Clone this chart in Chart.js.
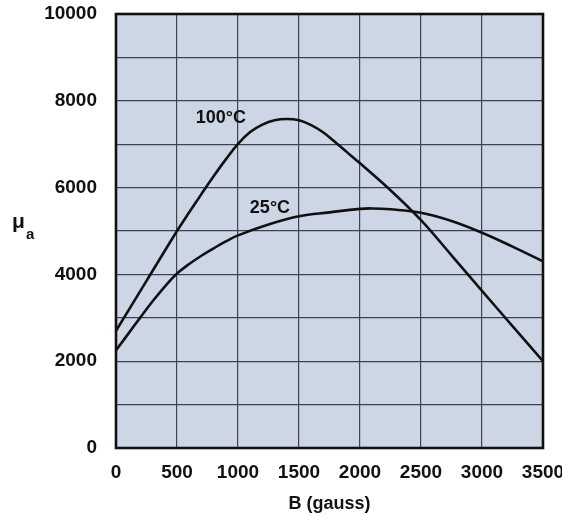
<!DOCTYPE html>
<html>
<head>
<meta charset="utf-8">
<script src="https://cdn.jsdelivr.net/npm/chart.js@4"></script>
<style>
  html, body { margin: 0; padding: 0; background: #fff; }
  #wrap { width: 562px; height: 516px; }
</style>
</head>
<body>
<div id="wrap"><canvas id="myChart" width="562" height="516"></canvas></div>
<script>
/* field B (gauss) where each curve was read */
const b100 = [0, 250, 500, 600, 700, 800, 900, 1000, 1100, 1200, 1300, 1400, 1500, 1600, 1700, 1800, 1900, 2000, 2250, 2500, 2750, 3000, 3250, 3500];
const mu100 = [2700, 3850, 5000, 5430, 5850, 6260, 6650, 7010, 7280, 7450, 7550, 7580, 7550, 7440, 7270, 7040, 6800, 6560, 5940, 5250, 4440, 3620, 2810, 2000];

const b25 = [0, 100, 200, 300, 400, 500, 600, 700, 800, 900, 1000, 1250, 1500, 1750, 2000, 2100, 2250, 2500, 2750, 3000, 3250, 3500];
const mu25 = [2250, 2630, 3010, 3380, 3720, 4020, 4240, 4430, 4600, 4760, 4900, 5150, 5340, 5430, 5510, 5520, 5500, 5420, 5230, 4960, 4640, 4300];

/* tick values */
const xTicks = [0, 500, 1000, 1500, 2000, 2500, 3000, 3500];
const yTicks = [0, 2000, 4000, 6000, 8000, 10000];

/* curve names */
const curveNames = ['100°C', '25°C'];

const FONT = 'Liberation Sans, Arial, Helvetica, sans-serif';

const toPoints = (xs, ys) => xs.map((x, i) => ({ x: x, y: ys[i] }));

/* background of the plot area */
const plotBg = {
  id: 'plotBg',
  beforeDraw(chart) {
    const { ctx, chartArea: a } = chart;
    ctx.save();
    ctx.fillStyle = '#cdd6e4';
    ctx.fillRect(a.left, a.top, a.right - a.left, a.bottom - a.top);
    ctx.restore();
  },
};

/* frame, curve names and the mu_a axis name */
const extras = {
  id: 'extras',
  afterDraw(chart) {
    const { ctx, chartArea: a, scales } = chart;
    ctx.save();
    ctx.strokeStyle = '#111';
    ctx.lineWidth = 2.6;
    ctx.strokeRect(a.left, a.top, a.right - a.left, a.bottom - a.top);

    ctx.fillStyle = '#111';
    ctx.font = 'bold 18px ' + FONT;
    ctx.textAlign = 'center';
    ctx.textBaseline = 'middle';
    ctx.fillText(curveNames[0], scales.x.getPixelForValue(860), scales.y.getPixelForValue(7600));
    ctx.fillText(curveNames[1], scales.x.getPixelForValue(1262), scales.y.getPixelForValue(5530));

    ctx.textAlign = 'left';
    ctx.textBaseline = 'alphabetic';
    ctx.font = 'bold 21px ' + FONT;
    ctx.fillText('μ', 12, 228);
    ctx.font = 'bold 15px ' + FONT;
    ctx.fillText('a', 26, 239);
    ctx.restore();
  },
};

const lineStyle = {
  borderColor: '#111',
  borderWidth: 2.6,
  pointRadius: 0,
  tension: 0.4,
  fill: false,
};

const config = {
  type: 'line',
  data: {
    datasets: [
      { label: curveNames[0], data: toPoints(b100, mu100), ...lineStyle },
      { label: curveNames[1], data: toPoints(b25, mu25), ...lineStyle },
    ],
  },
  options: {
    responsive: false,
    animation: false,
    layout: { padding: { left: 0, right: 19, top: 14, bottom: 0 } },
    plugins: {
      legend: { display: false },
      tooltip: { enabled: false },
    },
    scales: {
      x: {
        type: 'linear',
        min: 0,
        max: 3500,
        afterBuildTicks: (scale) => {
          scale.ticks = xTicks.map((v) => ({ value: v }));
        },
        afterFit: (scale) => {
          scale.height = 68;
          scale.paddingLeft = 0;
          scale.paddingRight = 0;
        },
        grid: { color: '#3d4352', lineWidth: 1.2, drawTicks: false },
        border: { display: false },
        ticks: {
          color: '#111',
          padding: 13,
          maxRotation: 0,
          font: { family: FONT, size: 19, weight: 'bold' },
          callback: (v) => String(v),
        },
        title: {
          display: true,
          text: 'B (gauss)',
          color: '#111',
          padding: { top: 0, bottom: 1 },
          font: { family: FONT, size: 18, weight: 'bold' },
        },
      },
      y: {
        min: 0,
        max: 10000,
        afterBuildTicks: (scale) => {
          const t = [];
          for (let v = 0; v <= 10000; v += 1000) t.push({ value: v });
          scale.ticks = t;
        },
        afterFit: (scale) => {
          scale.width = 116;
          scale.paddingTop = 0;
          scale.paddingBottom = 0;
        },
        grid: { color: '#3d4352', lineWidth: 1.2, drawTicks: false },
        border: { display: false },
        ticks: {
          color: '#111',
          padding: 19,
          font: { family: FONT, size: 19, weight: 'bold' },
          callback: (v) => (yTicks.includes(v) ? String(v) : ''),
        },
      },
    },
  },
  plugins: [plotBg, extras],
};

new Chart(document.querySelector('#myChart'), config);
</script>
</body>
</html>
